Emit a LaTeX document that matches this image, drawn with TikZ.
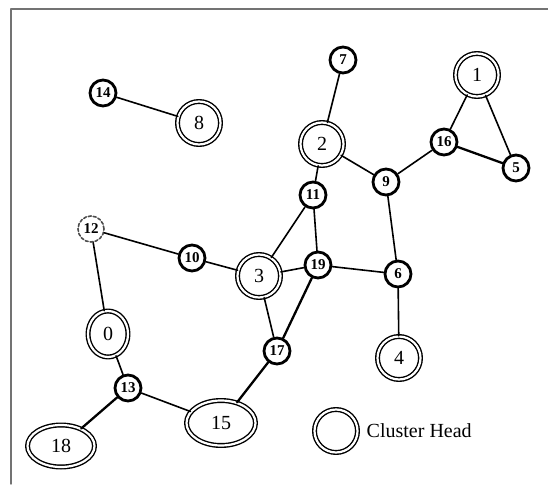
\documentclass[tikz,border=0pt]{standalone}
\usepackage{fontspec}
\setmainfont{Liberation Serif}
\usetikzlibrary{shapes.geometric,positioning}
\begin{document}
\begin{tikzpicture}[x=1pt,y=-1pt,line join=round,line cap=round,
	head/.style={circle,draw,double,double distance=2.2pt,line width=1.4pt,minimum size=43pt,inner sep=0pt,font=\fontsize{20}{24}\selectfont},
	headov/.style={head,ellipse},
	member/.style={circle,draw,line width=2.8pt,minimum size=26pt,inner sep=0pt,font=\fontsize{15}{17}\selectfont\bfseries},
	link/.style={line width=1.6pt},
	heavy/.style={line width=2.3pt}]
	\useasboundingbox (0,0) rectangle (548,484);
	% frame
	\draw[black!55,line width=1.4pt] (548,9)--(11,9)--(11,484);
	% cluster heads
	\node[head] (n1) at (477,75) {1};
	\node[head] (n2) at (322,144) {2};
	\node[head] (n3) at (259,276) {3};
	\node[head] (n4) at (399,358) {4};
	\node[head] (n8) at (199,123) {8};
	\node[headov,minimum width=40pt,minimum height=46pt] (n0) at (108,334) {0};
	\node[headov,minimum width=69pt,minimum height=45pt] (n15) at (221,423) {15};
	\node[headov,minimum width=67pt,minimum height=42pt] (n18) at (61,446) {18};
	% members
	\node[member] (n5) at (516,168) {5};
	\node[member] (n6) at (398,274) {6};
	\node[member] (n7) at (343,60) {7};
	\node[member] (n9) at (386,182) {9};
	\node[member] (n10) at (192,258) {10};
	\node[member] (n11) at (313,195) {11};
	\node[member,line width=1.6pt,black!70,densely dashed,text=black] (n12) at (91,229) {12};
	\node[member] (n13) at (128,388) {13};
	\node[member] (n14) at (103,93) {14};
	\node[member] (n16) at (444,142) {16};
	\node[member] (n17) at (277,351) {17};
	\node[member] (n19) at (318,265) {19};
	% links
	\draw[link] (n14)--(n8);
	\draw[link] (n7)--(n2);
	\draw[link] (n1)--(n16);
	\draw[link] (n1)--(n5);
	\draw[heavy] (n16)--(n5);
	\draw[link] (n16)--(n9);
	\draw[link] (n2)--(n9);
	\draw[link] (n2)--(n11);
	\draw[link] (n11)--(n19);
	\draw[link] (n11)--(n3);
	\draw[link] (n9)--(n6);
	\draw[link] (n12)--(n10);
	\draw[link] (n10)--(n3);
	\draw[link] (n3)--(n19);
	\draw[link] (n19)--(n6);
	\draw[heavy] (n19)--(n17);
	\draw[link] (n3)--(n17);
	\draw[link] (n6)--(n4);
	\draw[link] (n12)--(n0);
	\draw[link] (n0)--(n13);
	\draw[heavy] (n13)--(n18);
	\draw[link] (n13)--(n15);
	\draw[heavy] (n15)--(n17);
	% legend
	\node[head] (key) at (336,431) {};
	\node[right=5pt of key,font=\fontsize{20}{24}\selectfont] (keytext) {Cluster Head};
\end{tikzpicture}
\end{document}
